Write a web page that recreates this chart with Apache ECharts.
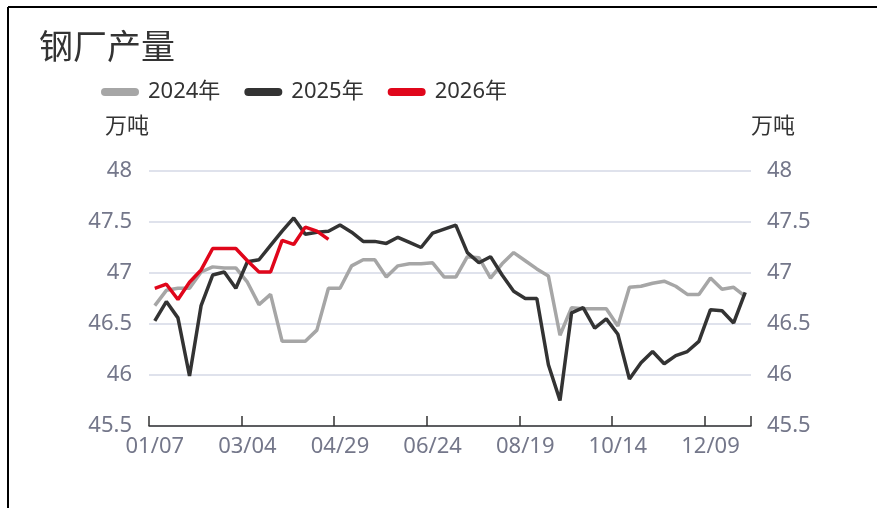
<!DOCTYPE html>
<html>
<head>
<meta charset="utf-8">
<script src="https://cdn.jsdelivr.net/npm/echarts@6/dist/echarts.min.js"></script>
<style>
  html, body { margin: 0; padding: 0; background: #fff; }
  #main { width: 877px; height: 508px; }
</style>
</head>
<body>
<div id="main"></div>
<script>
// 周度日期
var weeks = ['01/07','01/14','01/21','01/28','02/04','02/11','02/18','02/25',
    '03/04','03/11','03/18','03/25','04/01','04/08','04/15','04/22',
    '04/29','05/06','05/13','05/20','05/27','06/03','06/10','06/17',
    '06/24','07/01','07/08','07/15','07/22','07/29','08/05','08/12',
    '08/19','08/26','09/02','09/09','09/16','09/23','09/30','10/07',
    '10/14','10/21','10/28','11/04','11/11','11/18','11/25','12/02',
    '12/09','12/16','12/23','12/30'];

var data2024 = [46.68, 46.83, 46.85, 46.85, 47.01, 47.06, 47.05, 47.05,
    46.91, 46.69, 46.79, 46.33, 46.33, 46.33, 46.44, 46.85,
    46.85, 47.07, 47.13, 47.13, 46.96, 47.07, 47.09, 47.09,
    47.10, 46.96, 46.96, 47.16, 47.15, 46.95, 47.09, 47.20,
    47.12, 47.04, 46.97, 46.39, 46.66, 46.65, 46.65, 46.65,
    46.48, 46.86, 46.87, 46.90, 46.92, 46.87, 46.79, 46.79,
    46.95, 46.84, 46.86, 46.77];

var data2025 = [46.53, 46.72, 46.56, 45.99, 46.68, 46.98, 47.01, 46.85,
    47.11, 47.13, 47.27, 47.41, 47.54, 47.38, 47.40, 47.41,
    47.47, 47.40, 47.31, 47.31, 47.29, 47.35, 47.30, 47.25,
    47.39, 47.43, 47.47, 47.20, 47.10, 47.16, 46.98, 46.82,
    46.75, 46.75, 46.10, 45.75, 46.61, 46.66, 46.46, 46.55,
    46.40, 45.96, 46.12, 46.23, 46.11, 46.19, 46.23, 46.33,
    46.64, 46.63, 46.51, 46.81];

var data2026 = [46.85, 46.89, 46.74, 46.91, 47.03, 47.24, 47.24, 47.24,
    47.12, 47.01, 47.01, 47.32, 47.28, 47.45, 47.41, 47.33];

var labelColor = '#74778a';
var fontFam = '"Noto Sans", "Noto Sans CJK SC", sans-serif';
var pill = 'path://M4,0 L34,0 A4,4 0 0 1 34,8 L4,8 A4,4 0 0 1 4,0 Z';

var myChart = echarts.init(document.getElementById('main'));
var option = {
    backgroundColor: '#fff',
    animation: false,
    textStyle: {
        fontFamily: fontFam
    },
    title: {
        text: '钢厂产量',
        left: 34,
        top: 27,
        textStyle: {
            fontSize: 34,
            fontWeight: 'normal',
            color: '#333',
            fontFamily: fontFam
        }
    },
    legend: {
        left: 96,
        top: 76,
        itemWidth: 38,
        itemHeight: 8,
        itemGap: 24,
        icon: pill,
        textStyle: {
            fontSize: 22,
            color: '#333',
            fontFamily: fontFam,
            padding: [0, 0, 0, 4]
        },
        data: ['2024年', '2025年', '2026年']
    },
    graphic: [
        { type: 'line', shape: { x1: 8, y1: 7, x2: 877, y2: 7 }, style: { stroke: '#000', lineWidth: 2 } },
        { type: 'line', shape: { x1: 8, y1: 7, x2: 8, y2: 508 }, style: { stroke: '#000', lineWidth: 2 } }
    ],
    grid: {
        left: 149,
        right: 126,
        top: 171,
        bottom: 82
    },
    xAxis: {
        type: 'category',
        data: weeks,
        boundaryGap: true,
        axisLine: {
            show: true,
            lineStyle: { color: '#333', width: 1.5 }
        },
        axisTick: {
            show: true,
            inside: true,
            length: 10,
            interval: 7,
            lineStyle: { color: '#333', width: 1.5 }
        },
        axisLabel: {
            interval: 7,
            fontSize: 22,
            color: labelColor,
            fontFamily: fontFam,
            margin: 10
        },
        splitLine: { show: false }
    },
    yAxis: [{
        type: 'value',
        min: 45.5,
        max: 48,
        interval: 0.5,
        position: 'left',
        name: '万吨',
        nameLocation: 'end',
        nameGap: 33,
        nameTextStyle: {
            fontSize: 22,
            color: '#333',
            fontFamily: fontFam,
            align: 'right'
        },
        axisLine: { show: false },
        axisTick: { show: false },
        axisLabel: {
            fontSize: 22,
            color: labelColor,
            fontFamily: fontFam,
            margin: 17
        },
        splitLine: {
            show: true,
            lineStyle: { color: '#d5d8e6', width: 1.5 }
        }
    }, {
        type: 'value',
        min: 45.5,
        max: 48,
        interval: 0.5,
        position: 'right',
        name: '万吨',
        nameLocation: 'end',
        nameGap: 33,
        nameTextStyle: {
            fontSize: 22,
            color: '#333',
            fontFamily: fontFam,
            align: 'left'
        },
        axisLine: { show: false },
        axisTick: { show: false },
        axisLabel: {
            fontSize: 22,
            color: labelColor,
            fontFamily: fontFam,
            margin: 16
        },
        splitLine: { show: false }
    }],
    series: [{
        name: '2024年',
        type: 'line',
        data: data2024,
        showSymbol: false,
        symbol: 'none',
        lineStyle: { color: '#a6a6a6', width: 3.5 },
        itemStyle: { color: '#a6a6a6' }
    }, {
        name: '2025年',
        type: 'line',
        data: data2025,
        showSymbol: false,
        symbol: 'none',
        lineStyle: { color: '#333333', width: 3.5 },
        itemStyle: { color: '#333333' }
    }, {
        name: '2026年',
        type: 'line',
        data: data2026,
        showSymbol: false,
        symbol: 'none',
        lineStyle: { color: '#e0061b', width: 3.5 },
        itemStyle: { color: '#e0061b' }
    }]
};
myChart.setOption(option);

window.onresize = function(){
    myChart.resize();
};
</script>
</body>
</html>
